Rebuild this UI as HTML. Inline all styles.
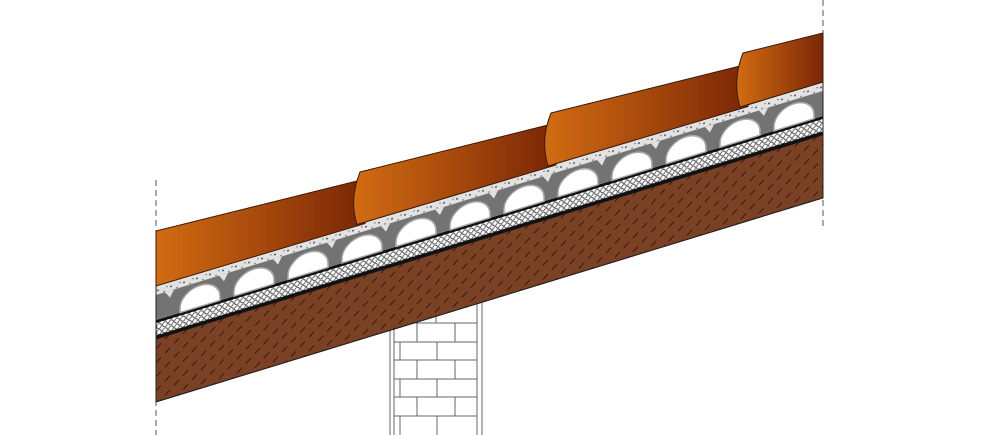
<!DOCTYPE html>
<html><head><meta charset="utf-8"><style>html,body{margin:0;padding:0;background:#fff}svg{display:block}</style></head>
<body>
<svg width="983" height="435" viewBox="0 0 983 435" xmlns="http://www.w3.org/2000/svg">
<defs>
<linearGradient id="tg" x1="0" x2="1" y1="0" y2="0">
<stop offset="0" stop-color="#d26c12"/><stop offset="1" stop-color="#7a2606"/>
</linearGradient>
<pattern id="dash" width="18" height="14" patternUnits="userSpaceOnUse">
<rect width="18" height="14" fill="#7a4125"/>
<line x1="3" y1="6" x2="8" y2="2" stroke="#2a1208" stroke-width="1"/>
<line x1="12" y1="13" x2="17" y2="9" stroke="#2a1208" stroke-width="1"/>
</pattern>
<pattern id="hex" width="6" height="6" patternUnits="userSpaceOnUse">
<rect width="6" height="6" fill="#fff"/>
<circle cx="3" cy="3" r="2.4" fill="#fff" stroke="#333" stroke-width="0.8"/>
</pattern>
<pattern id="spk" width="13" height="9" patternUnits="userSpaceOnUse">
<rect width="13" height="9" fill="#e2e2e2"/>
<circle cx="2" cy="3" r="0.9" fill="#333"/><circle cx="8" cy="6" r="0.7" fill="#555"/><circle cx="11" cy="2" r="0.6" fill="#444"/>
</pattern>
</defs>

<line x1="156" y1="180" x2="156" y2="435" stroke="#555" stroke-width="1" stroke-dasharray="6,4"/>
<line x1="823" y1="0" x2="823" y2="230" stroke="#555" stroke-width="1" stroke-dasharray="6,4"/>

<g stroke="#666" stroke-width="1" fill="none">
<rect x="390" y="290" width="92" height="150" fill="#fff"/>
<line x1="394" y1="290" x2="394" y2="435"/>
<line x1="477" y1="290" x2="477" y2="435"/>
<line x1="394" y1="323" x2="477" y2="323"/><line x1="394" y1="342" x2="477" y2="342"/>
<line x1="394" y1="360" x2="477" y2="360"/><line x1="394" y1="379" x2="477" y2="379"/>
<line x1="394" y1="397" x2="477" y2="397"/><line x1="394" y1="416" x2="477" y2="416"/>
<line x1="436" y1="305" x2="436" y2="323"/>
<line x1="417" y1="323" x2="417" y2="342"/><line x1="455" y1="323" x2="455" y2="342"/>
<line x1="400" y1="342" x2="400" y2="360"/><line x1="437" y1="342" x2="437" y2="360"/>
<line x1="417" y1="360" x2="417" y2="379"/><line x1="455" y1="360" x2="455" y2="379"/>
<line x1="400" y1="379" x2="400" y2="397"/><line x1="437" y1="379" x2="437" y2="397"/>
<line x1="417" y1="397" x2="417" y2="416"/><line x1="455" y1="397" x2="455" y2="416"/>
<line x1="400" y1="416" x2="400" y2="435"/><line x1="437" y1="416" x2="437" y2="435"/>
</g>

<g transform="matrix(1,-0.306,0,1,0,47.7)">
<rect x="156" y="339" width="667" height="63" fill="url(#dash)" stroke="#222" stroke-width="1"/>
<rect x="156" y="320" width="667" height="19" fill="#111"/>
<rect x="156" y="323" width="667" height="12.5" fill="url(#hex)"/>
<rect x="156" y="286" width="667" height="34" fill="url(#spk)"/>
<rect x="156" y="295" width="667" height="25" fill="#737373"/>
<g fill="#fff" stroke="#a8a8a8" stroke-width="1.5">
<path d="M180,320 V316 A20,17 0 0 1 220,316 V320Z"/>
<path d="M234,320 V316 A20,17 0 0 1 274,316 V320Z"/>
<path d="M288,320 V316 A20,17 0 0 1 328,316 V320Z"/>
<path d="M342,320 V316 A20,17 0 0 1 382,316 V320Z"/>
<path d="M396,320 V316 A20,17 0 0 1 436,316 V320Z"/>
<path d="M450,320 V316 A20,17 0 0 1 490,316 V320Z"/>
<path d="M504,320 V316 A20,17 0 0 1 544,316 V320Z"/>
<path d="M558,320 V316 A20,17 0 0 1 598,316 V320Z"/>
<path d="M612,320 V316 A20,17 0 0 1 652,316 V320Z"/>
<path d="M666,320 V316 A20,17 0 0 1 706,316 V320Z"/>
<path d="M720,320 V316 A20,17 0 0 1 760,316 V320Z"/>
<path d="M774,320 V316 A20,17 0 0 1 814,316 V320Z"/>
</g>
<g fill="#e2e2e2">
<path d="M219,295 L228,295 L224,302Z"/><path d="M273,295 L282,295 L278,302Z"/><path d="M327,295 L336,295 L332,302Z"/>
<path d="M381,295 L390,295 L386,302Z"/><path d="M435,295 L444,295 L440,302Z"/><path d="M489,295 L498,295 L494,302Z"/>
<path d="M543,295 L552,295 L548,302Z"/><path d="M597,295 L606,295 L602,302Z"/><path d="M651,295 L660,295 L656,302Z"/>
<path d="M705,295 L714,295 L710,302Z"/><path d="M759,295 L768,295 L764,302Z"/><path d="M165,295 L174,295 L170,302Z"/>
</g>
<rect x="156" y="286" width="667" height="116" fill="none" stroke="#222" stroke-width="1"/>
</g>

<g stroke="#3a1a08" stroke-width="1" fill="url(#tg)">
<path d="M156,231 L365,179 L365,223.5 L156,286Z"/>
<path d="M360,172 L556,123 L556,165 L357,224.5 Q349,200 360,172Z"/>
<path d="M551,113 L748,64 L748,106.5 L548,166 Q540,140 551,113Z"/>
<path d="M743,53 L823,33 L823,82 L740,107 Q732,80 743,53Z"/>
</g>
</svg>
</body></html>
